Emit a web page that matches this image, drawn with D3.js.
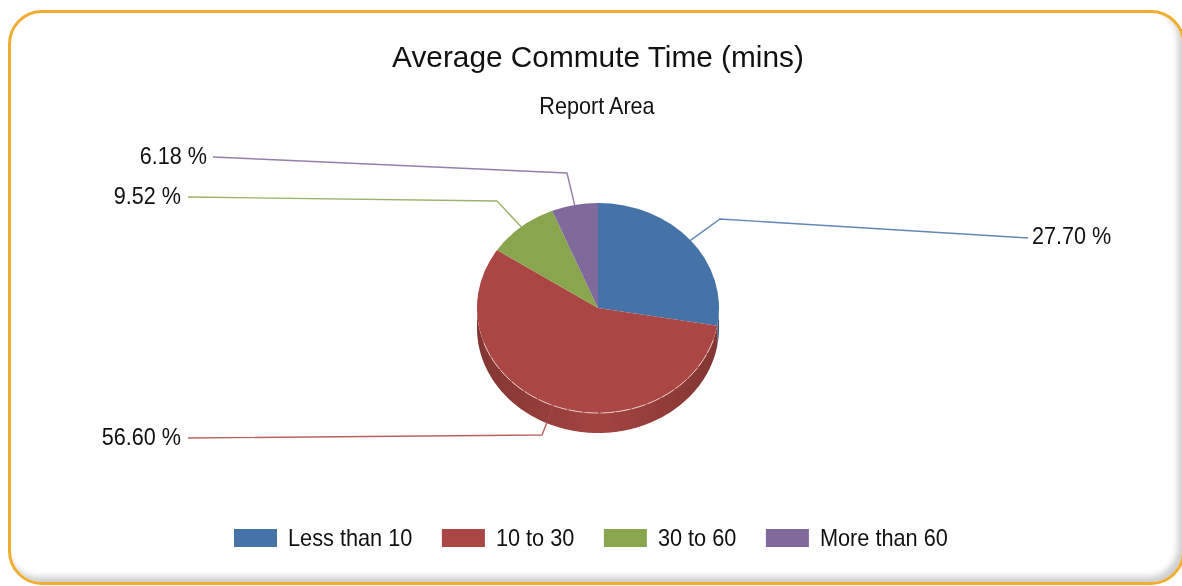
<!DOCTYPE html>
<html>
<head>
<meta charset="utf-8">
<script src="https://cdn.jsdelivr.net/npm/d3@7"></script>
<style>
    html, body { margin: 0; padding: 0; background: #fff; overflow: hidden; }
    #chart { position: relative; width: 1182px; height: 586px; }
    #frame {
        position: absolute; left: 8px; top: 10px; width: 1177px; height: 575px;
        box-sizing: border-box; border: 3px solid #f0ae30; border-radius: 34px;
        box-shadow: inset -4px -5px 6px rgba(0, 0, 0, 0.2);
    }
    svg { position: absolute; left: 0; top: 0; filter: blur(0.45px); }
    text { font-family: "Liberation Sans", Arial, sans-serif; fill: #111; }
</style>
</head>
<body>
<div id="chart"><div id="frame"></div></div>
<script>
// Values
const categories = ["Less than 10", "10 to 30", "30 to 60", "More than 60"];
const shares = [27.70, 56.60, 9.52, 6.18];
const colors = ["#4572a7", "#aa4643", "#89a54e", "#80699b"];
const title = "Average Commute Time (mins)";
const subtitle = "Report Area";

// Layout of the page
const width = 1182, height = 586;
const cx = 598, cy = 308, rx = 121, ry = 105, depth = 20;
// Small text in the reference is tall and narrow
const smallFont = 24, smallSqueeze = 0.9, legendSqueeze = 0.905;
// Leader elbow and label end for each slice
const leaders = [
    {elbow: [720, 219], end: [1028, 238], labelX: 1032, labelY: 244, anchor: "start"},
    {elbow: [542, 435], end: [188, 438], labelX: 181, labelY: 445, anchor: "end"},
    {elbow: [497, 201], end: [188, 197], labelX: 181, labelY: 204, anchor: "end"},
    {elbow: [567, 173], end: [213, 157], labelX: 207, labelY: 164, anchor: "end"}
];

const svg = d3.select("#chart").append("svg")
    .attr("width", width)
    .attr("height", height);

// Adds a squeezed text and returns its drawn width
function smallText(parent, x, y, anchor, str, squeeze) {
    const t = parent.append("text")
        .attr("x", x).attr("y", y)
        .attr("text-anchor", anchor)
        .style("font-size", smallFont + "px")
        .text(str);
    const w = t.node().getComputedTextLength() * squeeze;
    t.attr("textLength", w).attr("lengthAdjust", "spacingAndGlyphs");
    return w;
}

// Title and subtitle
svg.append("text")
    .attr("x", 598).attr("y", 67)
    .attr("text-anchor", "middle")
    .style("font-size", "29.8px")
    .text(title);
smallText(svg, 597, 114, "middle", subtitle, smallSqueeze);

const slices = d3.pie().sort(null).value(d => d)(shares);
const arc = d3.arc().innerRadius(0).outerRadius(rx);

// Point on the top face edge for a pie angle
function edgePoint(a) {
    return [cx + rx * Math.sin(a), cy - ry * Math.cos(a)];
}

// Horizontal shading of the side wall, darker at the rim
const defs = svg.append("defs");
slices.forEach((s, i) => {
    const grad = defs.append("linearGradient")
        .attr("id", "wall" + i)
        .attr("gradientUnits", "userSpaceOnUse")
        .attr("x1", cx - rx).attr("x2", cx + rx)
        .attr("y1", 0).attr("y2", 0);
    const base = d3.color(colors[i]);
    grad.append("stop").attr("offset", "0%").attr("stop-color", base.darker(0.75));
    grad.append("stop").attr("offset", "50%").attr("stop-color", base.darker(0.1));
    grad.append("stop").attr("offset", "100%").attr("stop-color", base.darker(0.75));
});

// Side wall, only the front half of the pie shows it
const wallLine = d3.line();
slices.forEach((s, i) => {
    const from = Math.max(s.startAngle, Math.PI / 2);
    const to = Math.min(s.endAngle, Math.PI * 1.5);
    if (from >= to) return;
    const angles = d3.range(from, to, 0.02).concat([to]);
    const topEdge = angles.map(edgePoint);
    const bottomEdge = topEdge.map(p => [p[0], p[1] + depth]).reverse();
    svg.append("path")
        .attr("d", wallLine(topEdge.concat(bottomEdge)) + "Z")
        .attr("fill", "url(#wall" + i + ")");
});

// Top face, a circular arc squashed into an ellipse
svg.append("g")
    .attr("transform", `translate(${cx},${cy}) scale(1,${ry / rx})`)
    .selectAll("path")
    .data(slices)
    .enter()
    .append("path")
    .attr("d", arc)
    .attr("fill", (d, i) => colors[i]);

// Pale dashed rim where the face meets the wall
const rimAngles = d3.range(Math.PI * 0.6, Math.PI * 1.4, 0.02);
svg.append("path")
    .attr("d", wallLine(rimAngles.map(edgePoint)))
    .attr("fill", "none")
    .attr("stroke", "#e8c8c6")
    .attr("stroke-width", 1)
    .attr("stroke-dasharray", "14,2");

// Leader lines and percent labels
slices.forEach((s, i) => {
    const lead = leaders[i];
    const mid = (s.startAngle + s.endAngle) / 2;
    svg.append("path")
        .attr("d", wallLine([edgePoint(mid), lead.elbow, lead.end]))
        .attr("fill", "none")
        .attr("stroke", colors[i])
        .attr("stroke-opacity", 0.85)
        .attr("stroke-width", 1.4);
    smallText(svg, lead.labelX, lead.labelY, lead.anchor, shares[i].toFixed(2) + " %", smallSqueeze);
});

// Legend, laid out from the measured label widths
const legend = svg.append("g");
let legendX = 234;
categories.forEach((c, i) => {
    legend.append("rect")
        .attr("x", legendX).attr("y", 529)
        .attr("width", 43).attr("height", 18)
        .attr("fill", colors[i]);
    const w = smallText(legend, legendX + 54, 546, "start", c, legendSqueeze);
    legendX += 54 + w + 29.5;
});
</script>
</body>
</html>
